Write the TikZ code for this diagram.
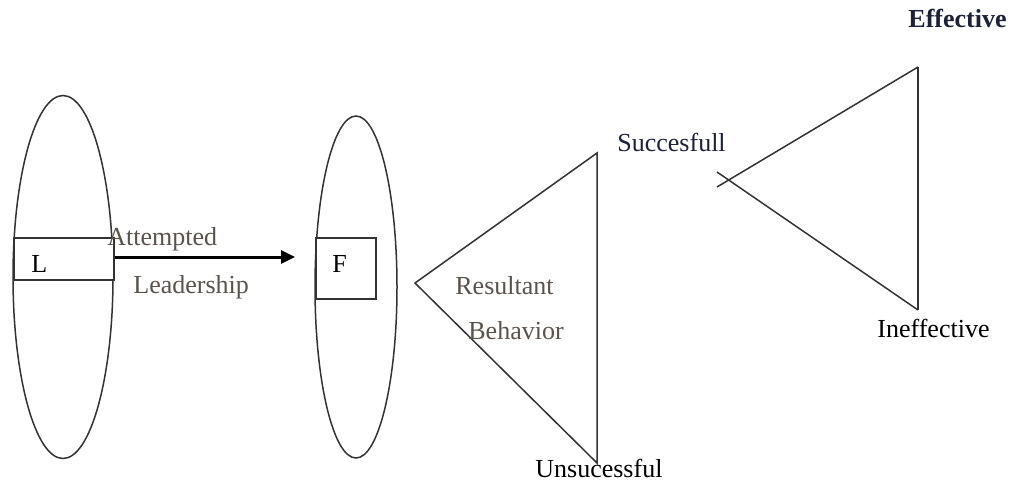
\documentclass[tikz,border=0pt]{standalone}
\usepackage{fontspec}
\setmainfont{Liberation Serif}
\usetikzlibrary{shapes.geometric,arrows.meta}
\definecolor{ink}{HTML}{333333}
\definecolor{soft}{HTML}{5B534B}
\definecolor{navy}{HTML}{1C2238}
\begin{document}
\begin{tikzpicture}[x=0.5pt,y=-0.5pt,
  outline/.style={draw=ink,line width=0.75pt},
  oval/.style={outline,ellipse,inner sep=0pt},
  box/.style={outline,rectangle,inner sep=0pt,anchor=north west},
  lbl/.style={anchor=base west,inner sep=0pt,font=\fontsize{13}{15}\selectfont},
  every node/.append style={}]
\useasboundingbox (0,0) rectangle (1012,483);

% the two groups: leader and followers
\node[oval,minimum width=50pt,minimum height=181.5pt] (lead) at (63,277) {};
\node[oval,minimum width=41pt,minimum height=171pt] (foll) at (356,287) {};
\node[box,fill=white,minimum width=50pt,minimum height=21pt] (lbox) at (13,237) {};
\node[box,fill=white,minimum width=30pt,minimum height=30.5pt] (fbox) at (315,237) {};
\node[lbl] (ltext) at (31,272) {L};
\node[lbl] (ftext) at (332,272) {F};

% attempted leadership
\draw[line width=1.5pt,-{Triangle[length=7pt,width=6.5pt]},shorten >=10pt]
  (lbox.east |- 0,257) -- (fbox.west |- 0,257);
\node[lbl,text=soft] (att) at (107,245) {Attempted};
\node[lbl,text=soft] (ldr) at (133,293) {Leadership};

% resultant behaviour: successful / unsuccessful
\coordinate (ra) at (415,283);
\coordinate (rt) at (597,153);
\coordinate (rb) at (597,463);
\draw[outline,line join=miter] (rt) -- (ra) -- (rb) -- cycle;
\node[lbl,text=soft] (res) at (455,294) {Resultant};
\node[lbl,text=soft] (beh) at (468,339) {Behavior};
\node[lbl,text=navy] (suc) at (617,151) {Succesfull};
\node[lbl] (uns) at (535,477) {Unsucessful};

% effective / ineffective, sides crossing past the apex
\coordinate (et) at (918,67);
\coordinate (eb) at (918,310);
\coordinate (eu) at (717,187);
\coordinate (ed) at (717,172);
\draw[outline] (et) -- (eu);
\draw[outline] (eb) -- (ed);
\draw[outline] (et) -- (eb);
\node[lbl,text=navy,font=\fontsize{13}{15}\selectfont\bfseries] (eff) at (908,27) {Effective};
\node[lbl] (ineff) at (877,337) {Ineffective};
\end{tikzpicture}
\end{document}
